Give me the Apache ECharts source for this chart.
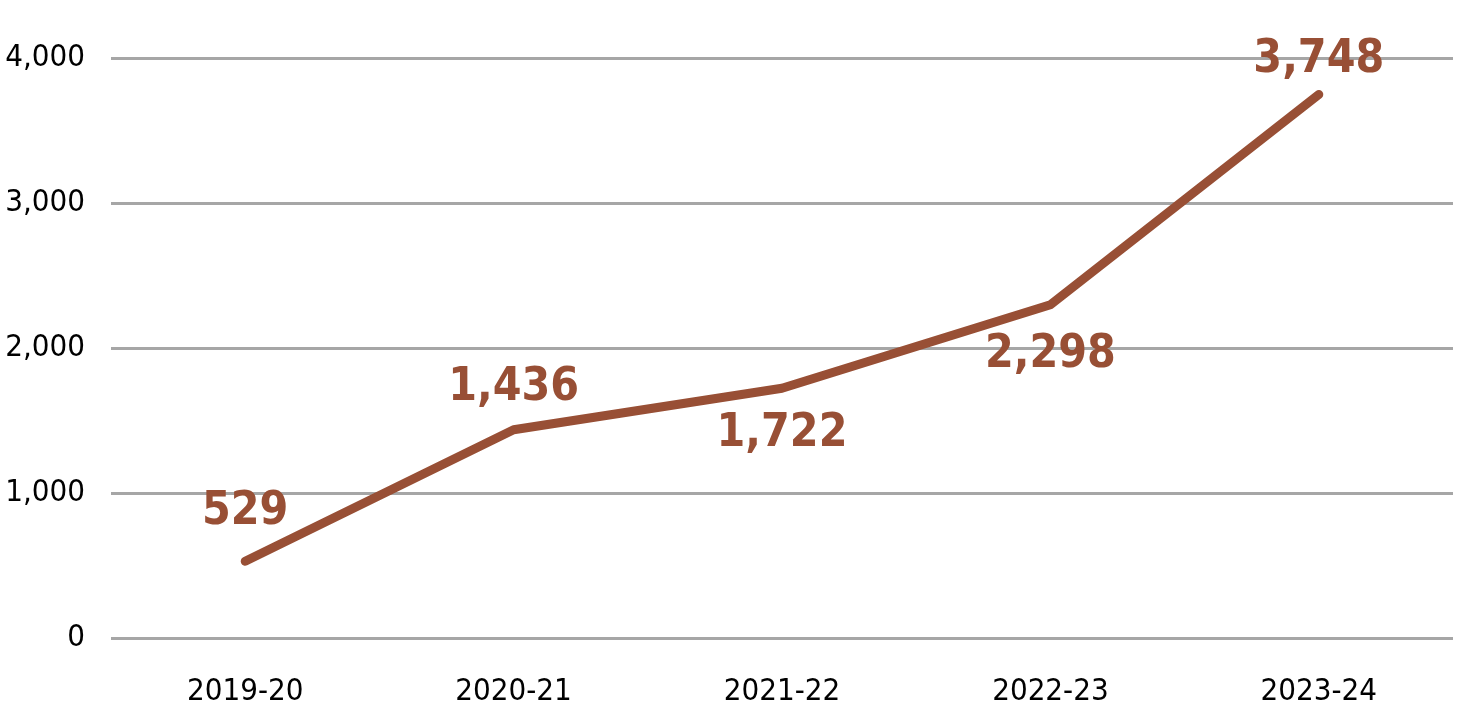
<!DOCTYPE html>
<html>
<head>
<meta charset="utf-8">
<script src="https://cdn.jsdelivr.net/npm/echarts@6/dist/echarts.min.js"></script>
<style>
html,body{margin:0;padding:0;background:#fff;}
#chart{width:1462px;height:724px;}
</style>
</head>
<body>
<div id="chart"></div>
<script>
const categories = ['2019-20', '2020-21', '2021-22', '2022-23', '2023-24'];
const values = [529, 1436, 1722, 2298, 3748];
const yTicks = { min: 0, max: 4000, interval: 1000 };

// label placement (style, not data)
const LABEL_POS = ['top', 'top', 'bottom', 'bottom', 'top'];
const LABEL_DIST = [25, 18, 22, 26, 10];

const FONT = '"Liberation Sans Narrow", "DejaVu Sans Condensed", "Arial Narrow", sans-serif';
const BROWN = '#984f35';

const chart = echarts.init(document.getElementById('chart'));
chart.setOption({
  animation: false,
  grid: { left: 111, right: 9, top: 58, bottom: 86, containLabel: false },
  xAxis: {
    type: 'category',
    data: categories,
    boundaryGap: true,
    axisLine: { show: false },
    axisTick: { show: false },
    axisLabel: { color: '#000', fontFamily: FONT, fontSize: 31, margin: 38 }
  },
  yAxis: {
    type: 'value',
    min: yTicks.min, max: yTicks.max, interval: yTicks.interval,
    axisLine: { show: false },
    axisTick: { show: false },
    splitLine: { lineStyle: { color: '#a6a6a6', width: 3 } },
    axisLabel: {
      color: '#000', fontFamily: FONT, fontSize: 31, margin: 26,
      formatter: v => v.toLocaleString('en-US')
    }
  },
  series: [{
    type: 'line',
    data: values.map((v, i) => ({
      value: v,
      label: { position: LABEL_POS[i], distance: LABEL_DIST[i] }
    })),
    symbol: 'circle',
    symbolSize: 2,
    showSymbol: true,
    itemStyle: { color: 'rgba(0,0,0,0)', borderWidth: 0 },
    lineStyle: { color: BROWN, width: 9, cap: 'round', join: 'round' },
    label: {
      show: true,
      opacity: 1,
      color: BROWN,
      fontFamily: FONT,
      fontWeight: 'bold',
      fontSize: 46,
      formatter: p => p.value.toLocaleString('en-US')
    }
  }]
});
</script>
</body>
</html>
